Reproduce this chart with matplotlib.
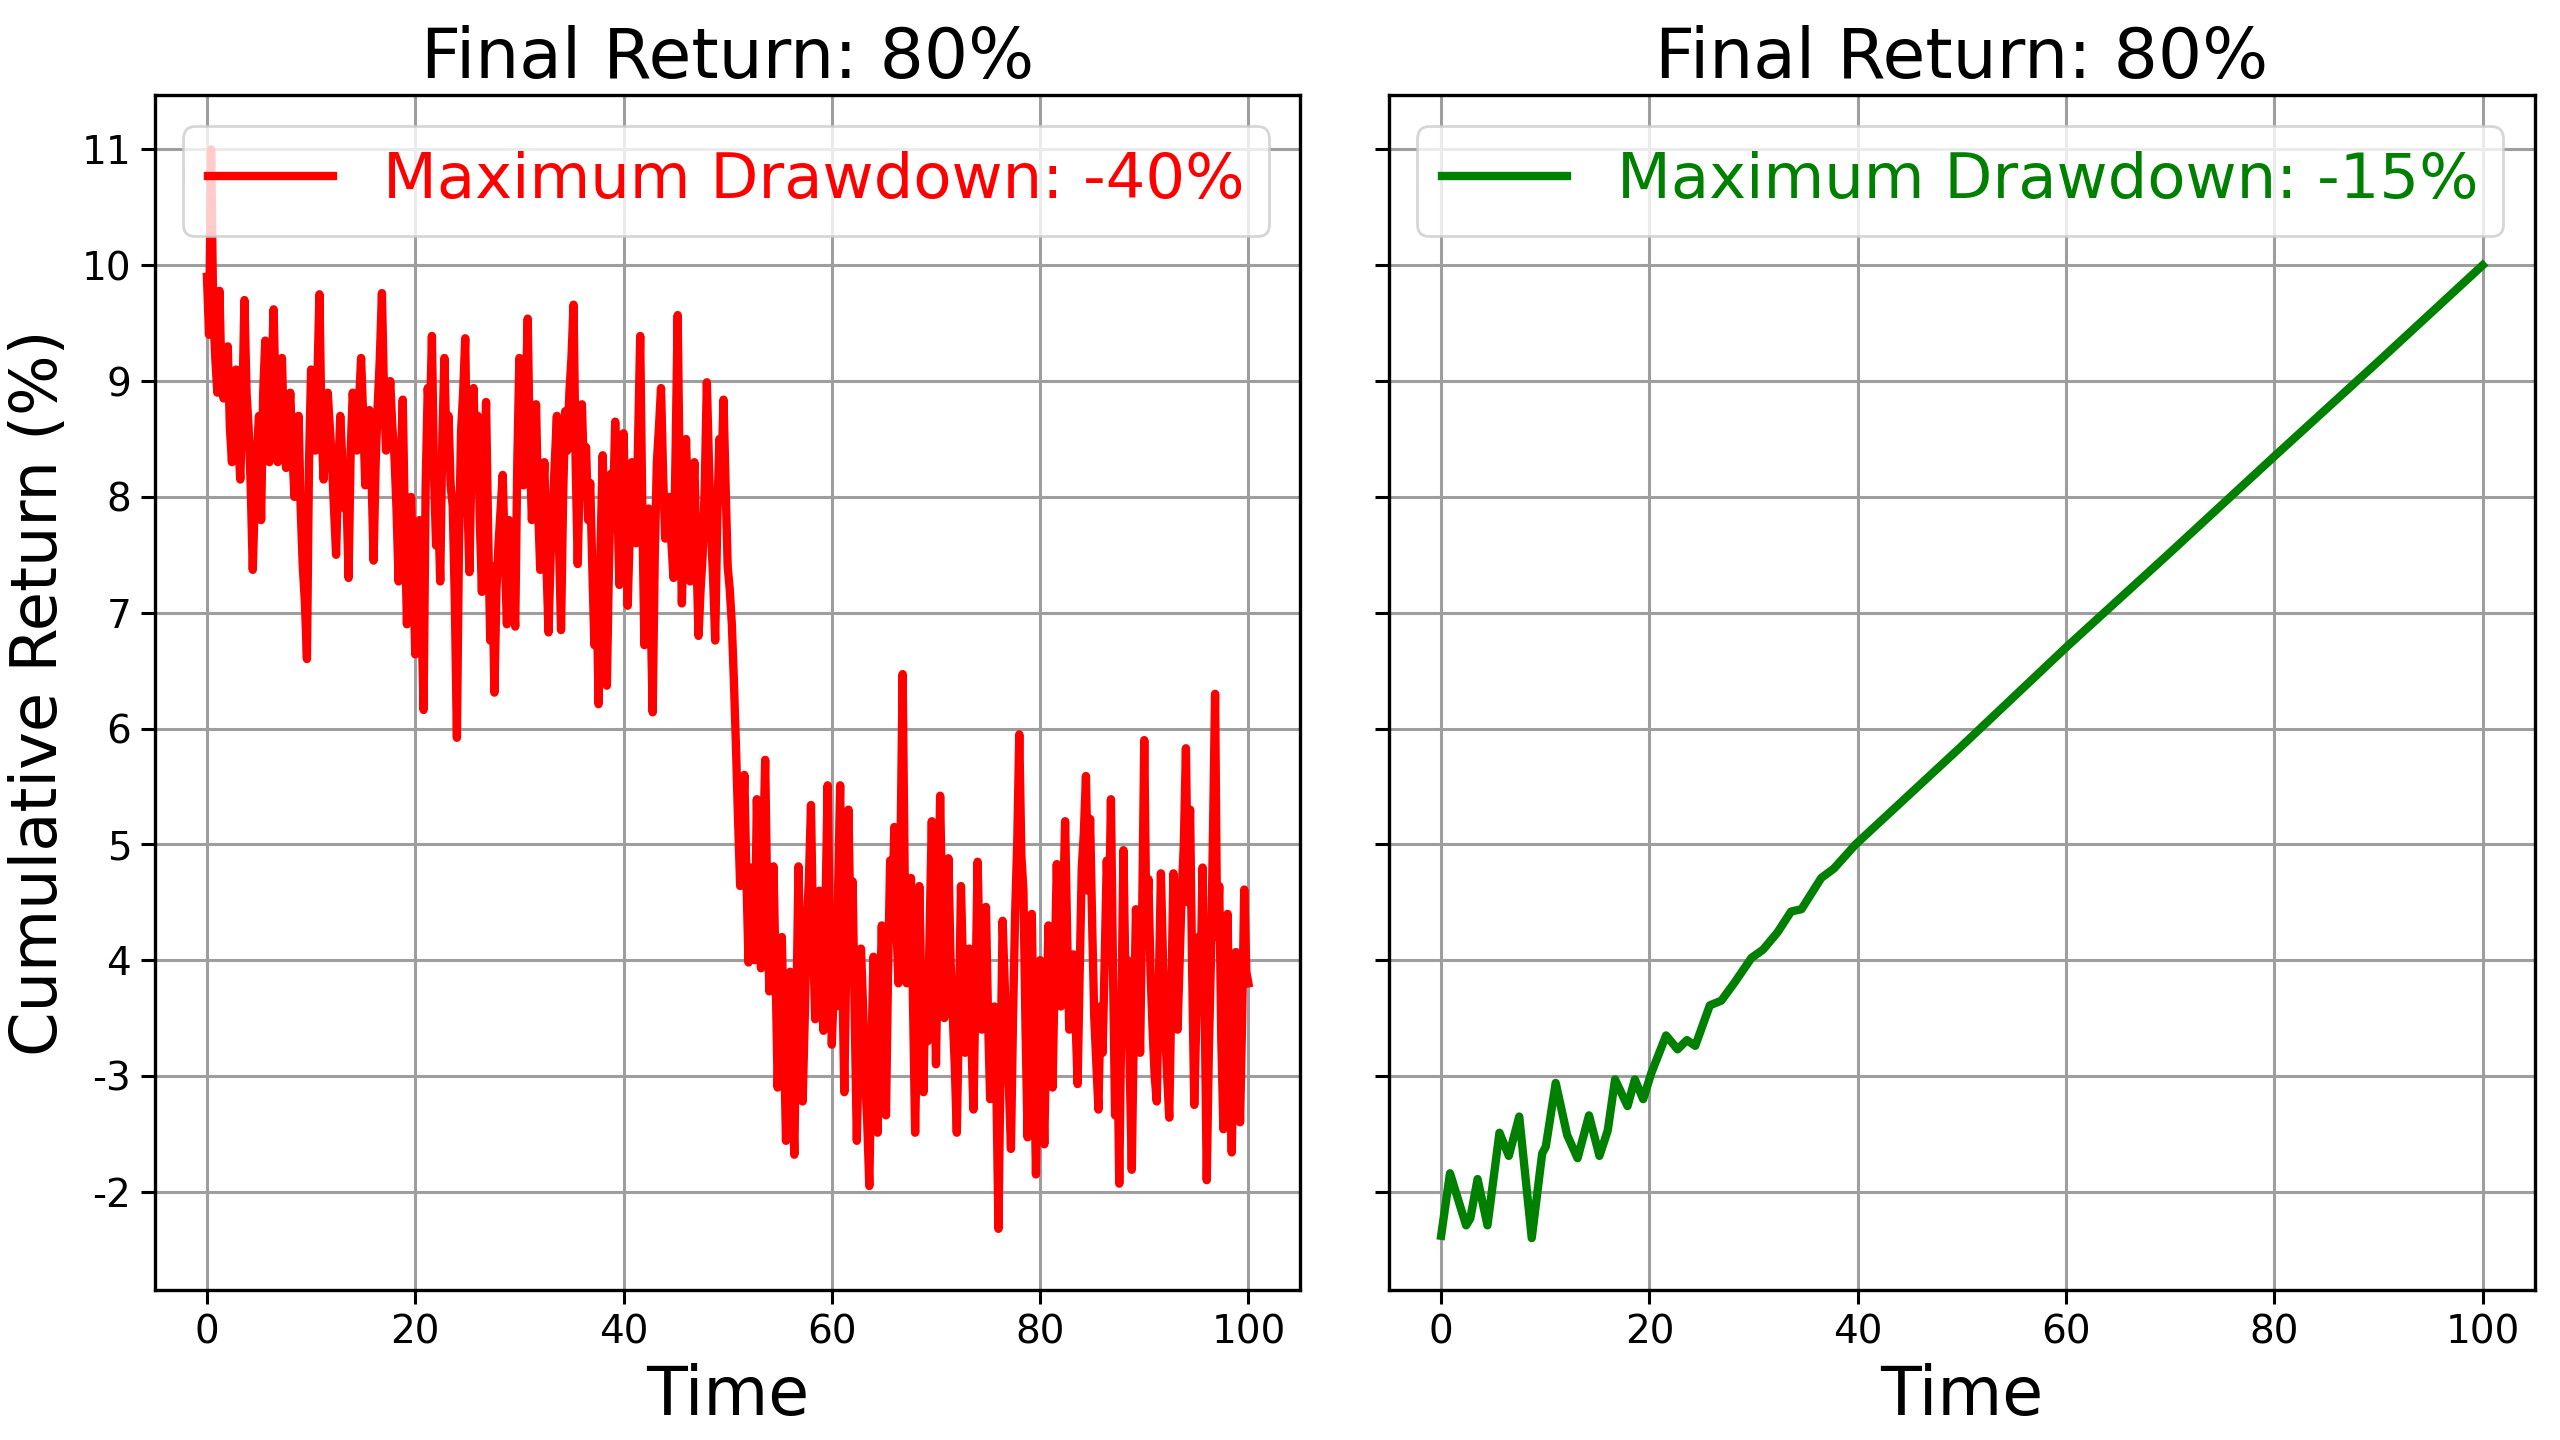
import matplotlib
matplotlib.use("Agg")
import matplotlib.pyplot as plt
import numpy as np

# values (one value every 0.2 time units)
red_values = [
    9.9, 9.4, 11.0, 9.6, 9.2, 8.9, 9.78, 9.0, 8.85, 9.1, 9.3, 8.6, 8.3, 8.9, 9.1, 8.5, 8.15, 8.8, 9.7, 8.9,
    8.6, 8.1, 7.37, 8.0, 8.4, 8.7, 7.8, 8.9, 9.35, 8.6, 8.3, 9.0, 9.62, 8.8, 8.3, 8.7, 9.2, 8.5, 8.25, 8.6,
    8.9, 8.4, 8.0, 8.5, 8.7, 7.9, 7.4, 7.1, 6.6, 8.3, 9.1, 8.7, 8.4, 9.0, 9.75, 8.6, 8.15, 8.5, 8.9, 8.6,
    8.3, 7.9, 7.5, 8.2, 8.7, 8.3, 7.9, 8.0, 7.3, 8.4, 8.9, 8.6, 8.4, 8.8, 9.2, 8.7, 8.1, 8.4, 8.75, 8.2,
    7.45, 8.3, 8.8, 9.2, 9.76, 8.9, 8.4, 8.7, 9.0, 8.6, 8.36, 7.9, 7.27, 8.2, 8.84, 7.8, 6.9, 7.6, 8.0, 7.4,
    6.64, 7.3, 7.8, 7.0, 6.16, 8.1, 8.94, 8.6, 9.39, 8.2, 7.58, 7.9, 7.27, 8.5, 9.2, 8.4, 8.7, 8.1, 7.92, 7.1,
    5.92, 7.6, 8.57, 8.9, 9.37, 8.0, 7.35, 8.3, 8.94, 8.2, 8.7, 7.8, 7.18, 8.1, 8.82, 7.7, 6.76, 7.4, 6.31, 7.2,
    7.6, 7.9, 8.19, 7.5, 6.9, 7.8, 7.4, 7.2, 6.88, 8.3, 9.2, 8.5, 8.1, 8.8, 9.54, 8.4, 7.8, 8.3, 8.8, 7.9,
    7.37, 7.9, 8.3, 7.4, 6.83, 7.5, 7.9, 8.3, 8.7, 7.6, 6.85, 8.0, 8.74, 8.4, 8.9, 9.2, 9.66, 8.3, 7.42, 8.2,
    8.8, 8.2, 8.43, 7.8, 8.12, 7.4, 6.72, 7.3, 6.21, 7.6, 8.36, 7.5, 6.37, 7.4, 8.2, 7.9, 8.65, 8.0, 7.24, 7.9,
    8.55, 7.8, 7.06, 7.7, 8.3, 8.0, 7.6, 8.5, 9.39, 7.9, 6.72, 7.4, 7.9, 7.0, 6.14, 7.5, 8.3, 8.6, 8.94, 8.2,
    7.64, 7.9, 8.0, 7.6, 7.3, 8.4, 9.57, 8.1, 7.08, 7.8, 8.5, 7.9, 7.27, 7.8, 8.3, 7.5, 6.8, 7.2, 7.5, 8.1,
    8.99, 8.3, 7.7, 7.3, 6.76, 7.8, 8.5, 8.2, 8.84, 8.1, 7.4, 7.2, 6.9, 6.4, 5.83, 5.2, 4.64, 5.0, 5.6, 4.7,
    3.98, 4.8, 4.44, 4.0, 5.39, 4.6, 3.93, 4.9, 5.73, 4.5, 3.73, 4.2, 4.81, 3.9, 2.9, 3.6, 4.2, 3.3, 2.44, 3.1,
    3.9, 3.0, 2.32, 3.6, 4.81, 3.9, 2.78, 3.5, 4.3, 4.7, 5.34, 4.2, 3.49, 3.9, 4.6, 3.7, 3.39, 4.5, 5.51, 4.3,
    3.27, 3.8, 3.6, 4.6, 5.51, 3.9, 2.86, 4.1, 5.3, 4.2, 4.68, 3.5, 2.44, 3.3, 4.1, 3.6, 3.0, 2.6, 2.05, 3.2,
    4.03, 3.3, 2.51, 3.5, 4.3, 3.4, 2.66, 3.9, 4.86, 4.4, 5.15, 4.3, 3.8, 5.0, 6.47, 4.7, 3.8, 4.2, 4.71, 3.6,
    2.51, 3.6, 4.64, 3.7, 2.86, 3.9, 3.3, 4.3, 5.2, 4.1, 3.1, 4.2, 5.42, 4.4, 3.5, 4.1, 4.88, 4.0, 3.55, 3.1,
    2.51, 3.5, 4.64, 3.9, 3.2, 3.7, 4.1, 3.3, 2.71, 3.8, 4.85, 4.0, 3.4, 3.9, 4.46, 3.5, 2.8, 3.3, 3.6, 2.9,
    1.68, 3.1, 4.34, 3.8, 3.2, 2.9, 2.37, 3.5, 4.4, 5.0, 5.95, 4.9, 4.6, 3.4, 2.47, 3.6, 4.4, 3.2, 2.15, 3.3,
    4.0, 3.2, 2.41, 3.4, 4.3, 3.7, 2.9, 3.9, 4.83, 4.1, 3.6, 4.4, 5.2, 4.2, 3.4, 3.8, 4.05, 3.5, 2.93, 3.9,
    4.8, 5.1, 5.59, 4.6, 5.22, 4.3, 3.5, 3.1, 2.71, 3.6, 3.2, 4.0, 4.86, 4.3, 5.39, 3.9, 2.66, 3.4, 2.07, 3.5,
    4.95, 3.8, 4.0, 3.1, 2.19, 3.4, 4.44, 3.9, 3.2, 4.4, 5.9, 4.3, 4.7, 3.9, 3.4, 3.0, 2.78, 3.8, 4.75, 4.0,
    3.4, 3.0, 2.64, 3.7, 4.75, 3.9, 3.4, 4.0, 4.6, 5.0, 5.83, 4.5, 5.3, 3.9, 2.75, 3.5, 4.2, 3.8, 4.8, 3.6,
    2.1, 3.2, 4.0, 5.1, 6.3, 4.2, 4.64, 3.3, 2.54, 3.6, 4.4, 3.1, 2.34, 3.3, 4.07, 3.2, 2.6, 3.5, 4.61, 3.9,
    3.8,
]
red_time = np.linspace(0, 100, len(red_values))

green_time = [0, 0.85, 2.4, 2.8, 3.5, 4.45, 5.6, 6.5, 7.5, 8.7, 9.7, 10.05,
              11, 12.1, 13.1, 14.2, 15.2, 16, 16.7, 17.9, 18.6, 19.4, 20.2,
              21.6, 22.7, 23.6, 24.4, 25.8, 26.9, 28.2, 29.8, 30.9, 32.3,
              33.6, 34.6, 36.5, 37.7, 39.8, 50, 60, 70, 80, 90, 100]
green_values = [1.62, 2.16, 1.71, 1.77, 2.11, 1.71, 2.51, 2.31, 2.65, 1.60,
                2.33, 2.39, 2.94, 2.49, 2.29, 2.66, 2.31, 2.53, 2.97, 2.74,
                2.97, 2.80, 3.03, 3.35, 3.23, 3.31, 3.26, 3.61, 3.65, 3.81,
                4.02, 4.09, 4.24, 4.42, 4.44, 4.71, 4.79, 5.00, 5.85, 6.70,
                7.52, 8.35, 9.17, 10.0]

ytick_pos = [2, 3, 4, 5, 6, 7, 8, 9, 10, 11]
ytick_labels = ['-2', '-3', '4', '5', '6', '7', '8', '9', '10', '11']
xtick_pos = [0, 20, 40, 60, 80, 100]

titles = ["Final Return: 80%", "Final Return: 80%"]
legend_labels = ["Maximum Drawdown: -40%", "Maximum Drawdown: -15%"]

fig = plt.figure(figsize=(12.8, 7.2), dpi=200)
ax1 = fig.add_axes([0.0605, 0.104, 0.4475, 0.830])
ax2 = fig.add_axes([0.5426, 0.104, 0.4475, 0.830], sharey=ax1)

ax1.plot(red_time, red_values, color='red', lw=3.0, label=legend_labels[0])
ax2.plot(green_time, green_values, color='green', lw=3.0, label=legend_labels[1])

for ax, title, col in [(ax1, titles[0], 'red'), (ax2, titles[1], 'green')]:
    ax.set_title(title, fontsize=25)
    ax.set_xlabel("Time", fontsize=24)
    ax.set_xlim(-5, 105)
    ax.set_xticks(xtick_pos)
    ax.grid(True, color='0.62', lw=1.1)
    ax.tick_params(labelsize=14, width=1.1, length=5)
    for s in ax.spines.values():
        s.set_linewidth(1.2)
    leg = ax.legend(loc='upper right', fontsize=22.5, handlelength=2.0)
    for t in leg.get_texts():
        t.set_color(col)

ax1.set_ylim(1.15, 11.47)
ax1.set_yticks(ytick_pos)
ax1.set_yticklabels(ytick_labels)
ax1.set_ylabel("Cumulative Return (%)", fontsize=23)
ax2.tick_params(labelleft=False)

fig.savefig("out.png", dpi=200)
